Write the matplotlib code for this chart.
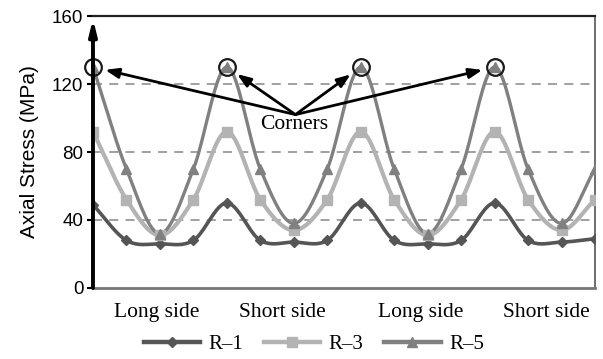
import numpy as np
import matplotlib
matplotlib.use("Agg")
import matplotlib.pyplot as plt

# Axial stress along the section perimeter (16 stations, corners at 0/4/8/12)
stations = list(range(16))
r1 = [49, 28, 26, 28, 50, 28, 27, 28, 50, 28, 26, 28, 50, 28, 27, 29]
r3 = [92, 52, 31, 52, 92, 52, 34, 52, 92, 52, 31, 52, 92, 52, 34, 52]
r5 = [130, 70, 32, 70, 130, 70, 38, 70, 130, 70, 32, 70, 130, 70, 38, 70]
corner_idx = [0, 4, 8, 12]
side_pos = [1.9, 5.65, 9.8, 13.55]
side_labels = ["Long side", "Short side", "Long side", "Short side"]
y_ticks = [0, 40, 80, 120, 160]

SERIF = "Liberation Serif"
SANS = "Liberation Sans"


def smooth(x, y, n=20):
    # Catmull-Rom spline through the points (like a smoothed line chart)
    x = np.asarray(x, float)
    y = np.asarray(y, float)
    px = np.concatenate([[2 * x[0] - x[1]], x, [2 * x[-1] - x[-2]]])
    py = np.concatenate([[2 * y[0] - y[1]], y, [2 * y[-1] - y[-2]]])
    t = np.linspace(0, 1, n, endpoint=False)
    xs, ys = [], []
    for i in range(1, len(px) - 2):
        for p, out in ((px, xs), (py, ys)):
            p0, p1, p2, p3 = p[i - 1], p[i], p[i + 1], p[i + 2]
            out.extend(0.5 * ((2 * p1) + (-p0 + p2) * t
                              + (2 * p0 - 5 * p1 + 4 * p2 - p3) * t ** 2
                              + (-p0 + 3 * p1 - 3 * p2 + p3) * t ** 3))
    xs.append(x[-1])
    ys.append(y[-1])
    return np.array(xs), np.array(ys)


fig = plt.figure(figsize=(6.03, 3.59), dpi=100)
ax = fig.add_axes([0.1542, 0.1978, 0.8325, 0.7576])

series = [
    ("R\u20131", r1, "#555555", "D", 5, 2.6),
    ("R\u20133", r3, "#b3b3b3", "s", 7, 3.0),
    ("R\u20135", r5, "#808080", "^", 7, 2.4),
]
handles = []
for name, vals, col, mk, ms, lw in series:
    sx, sy = smooth(stations, vals)
    ax.plot(sx, sy, color=col, lw=lw, zorder=3, solid_capstyle="round")
    ax.plot(stations, vals, ls="none", marker=mk, ms=ms, color=col, zorder=4)
    h, = ax.plot([], [], color=col, lw=3.2, marker=mk, ms=ms)
    handles.append(h)

# circles around the corner peaks
ax.plot([stations[i] for i in corner_idx], [r5[i] for i in corner_idx],
        ls="none", marker="o", ms=12, mfc="none", mec="#1a1a1a", mew=1.6,
        zorder=5, clip_on=False)

# "Corners" callout
ax.text(6.0, 101.5, "Corners", family=SERIF, fontsize=15.5, ha="center",
        va="top", zorder=6)
for i in corner_idx:
    ax.annotate("", xy=(stations[i], r5[i]), xytext=(6.05, 102),
                arrowprops=dict(arrowstyle="-|>,head_width=0.3,head_length=0.8",
                                color="black", lw=2.0, shrinkA=0, shrinkB=9),
                zorder=6, annotation_clip=False)

ax.set_xlim(0, 15)
ax.set_ylim(0, 160)
ax.set_yticks(y_ticks)
ax.set_yticklabels([str(v) for v in y_ticks], family=SANS, fontsize=13.5)
ax.set_xticks(side_pos)
ax.set_xticklabels(side_labels, family=SERIF, fontsize=15.5)
ax.tick_params(axis="x", length=0, pad=11)
ax.tick_params(axis="y", direction="out", length=4, width=1.5, pad=3)
ax.set_ylabel("Axial Stress (MPa)", family=SANS, fontsize=15, labelpad=9)

for v in [40, 80, 120]:
    ax.axhline(v, color="#999999", lw=1.3, ls=(0, (5, 4)), zorder=1)

ax.spines["left"].set_visible(False)
ax.spines["top"].set_color("#222222")
ax.spines["top"].set_linewidth(1.6)
ax.spines["right"].set_color("#555555")
ax.spines["right"].set_linewidth(1.2)
ax.spines["bottom"].set_color("#777777")
ax.spines["bottom"].set_linewidth(2.0)

# left axis drawn as an upward arrow
ax.annotate("", xy=(0, 0.99), xytext=(0, 0), xycoords="axes fraction",
            arrowprops=dict(arrowstyle="-|>,head_width=0.22,head_length=0.9",
                            color="black", lw=2.8, shrinkA=0, shrinkB=0),
            zorder=7, annotation_clip=False)

ax.legend(handles, [s[0] for s in series], loc="upper center",
          bbox_to_anchor=(0.44, -0.17), ncol=3, frameon=False,
          prop={"family": SERIF, "size": 15}, handlelength=2.7,
          handletextpad=0.4, columnspacing=1.0, borderaxespad=0.0,
          borderpad=0.0)

fig.savefig("out.png", dpi=100)
